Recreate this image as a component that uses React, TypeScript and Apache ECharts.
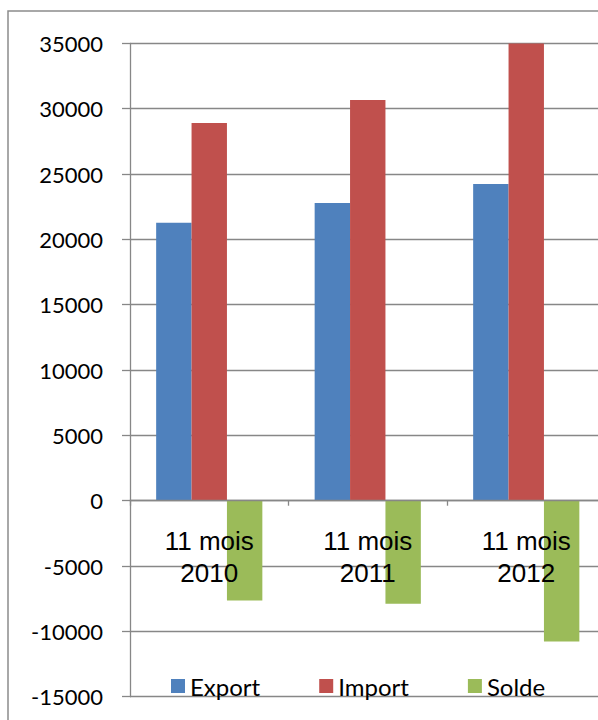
import React, { useEffect, useRef } from "react";
import * as echarts from "echarts";

const categories = ["11 mois\n2010", "11 mois\n2011", "11 mois\n2012"];
const exportValues = [21270, 22780, 24230];
const importValues = [28900, 30670, 35000];
const soldeValues = [-7630, -7890, -10770];
const yMin = -15000;
const yMax = 35000;
const yStep = 5000;

export default function App() {
  const ref = useRef<HTMLDivElement>(null);
  useEffect(() => {
    if (!ref.current) return;
    const chart = echarts.init(ref.current, null, { renderer: "svg" });
    const gray = "#878787";
    const calibriLike = "Lato, 'Open Sans', sans-serif";
    const gridHeight = 653.3;
    // distance of the value 0 above the bottom of the plot, from the value scale
    const zeroOffset = (gridHeight * (0 - yMin)) / (yMax - yMin);
    chart.setOption({
      animation: false,
      backgroundColor: "#ffffff",
      graphic: [
        {
          type: "rect",
          silent: true,
          z: -1,
          shape: { x: 8, y: 11, width: 640, height: 760 },
          style: { fill: "none", stroke: "#8c8c8c", lineWidth: 1.5 },
        },
      ],
      grid: {
        left: 130,
        top: 43.4,
        width: 475.5,
        height: gridHeight,
        containLabel: false,
        outerBoundsMode: "none",
      },
      legend: {
        data: ["Export", "Import", "Solde"],
        left: 171,
        top: 674,
        padding: 0,
        icon: "rect",
        itemWidth: 14,
        itemHeight: 14,
        itemGap: 59,
        textStyle: { fontFamily: calibriLike, fontSize: 24, color: "#000" },
      },
      xAxis: {
        type: "category",
        data: categories,
        z: 10,
        position: "bottom",
        offset: -zeroOffset,
        axisLine: { onZero: false, lineStyle: { color: gray, width: 1.3 } },
        axisTick: { show: true, length: 5, lineStyle: { color: gray, width: 1.3 } },
        axisLabel: {
          interval: 0,
          margin: 24,
          fontFamily: "'Liberation Sans', Arial, sans-serif",
          fontSize: 26,
          lineHeight: 32,
          color: "#000",
        },
        splitLine: { show: false },
      },
      yAxis: {
        type: "value",
        min: yMin,
        max: yMax,
        interval: yStep,
        axisLine: { show: true, lineStyle: { color: gray, width: 1.3 } },
        axisTick: { show: true, length: 8, lineStyle: { color: gray, width: 1.3 } },
        axisLabel: {
          margin: 27,
          fontFamily: calibriLike,
          fontSize: 22,
          color: "#000",
          formatter: (v: number) => String(v),
        },
        splitLine: { show: true, lineStyle: { color: gray, width: 1.3 } },
      },
      series: [
        {
          name: "Export",
          type: "bar",
          data: exportValues,
          barGap: "0%",
          barCategoryGap: "33%",
          itemStyle: { color: "#4F81BD" },
        },
        {
          name: "Import",
          type: "bar",
          data: importValues,
          barGap: "0%",
          barCategoryGap: "33%",
          itemStyle: { color: "#C0504D" },
        },
        {
          name: "Solde",
          type: "bar",
          data: soldeValues,
          barGap: "0%",
          barCategoryGap: "33%",
          itemStyle: { color: "#9BBB59" },
        },
      ],
    });
    return () => chart.dispose();
  }, []);
  return (
    <div
      ref={ref}
      style={{ position: "fixed", left: 0, top: 0, width: 598, height: 720 }}
    />
  );
}
